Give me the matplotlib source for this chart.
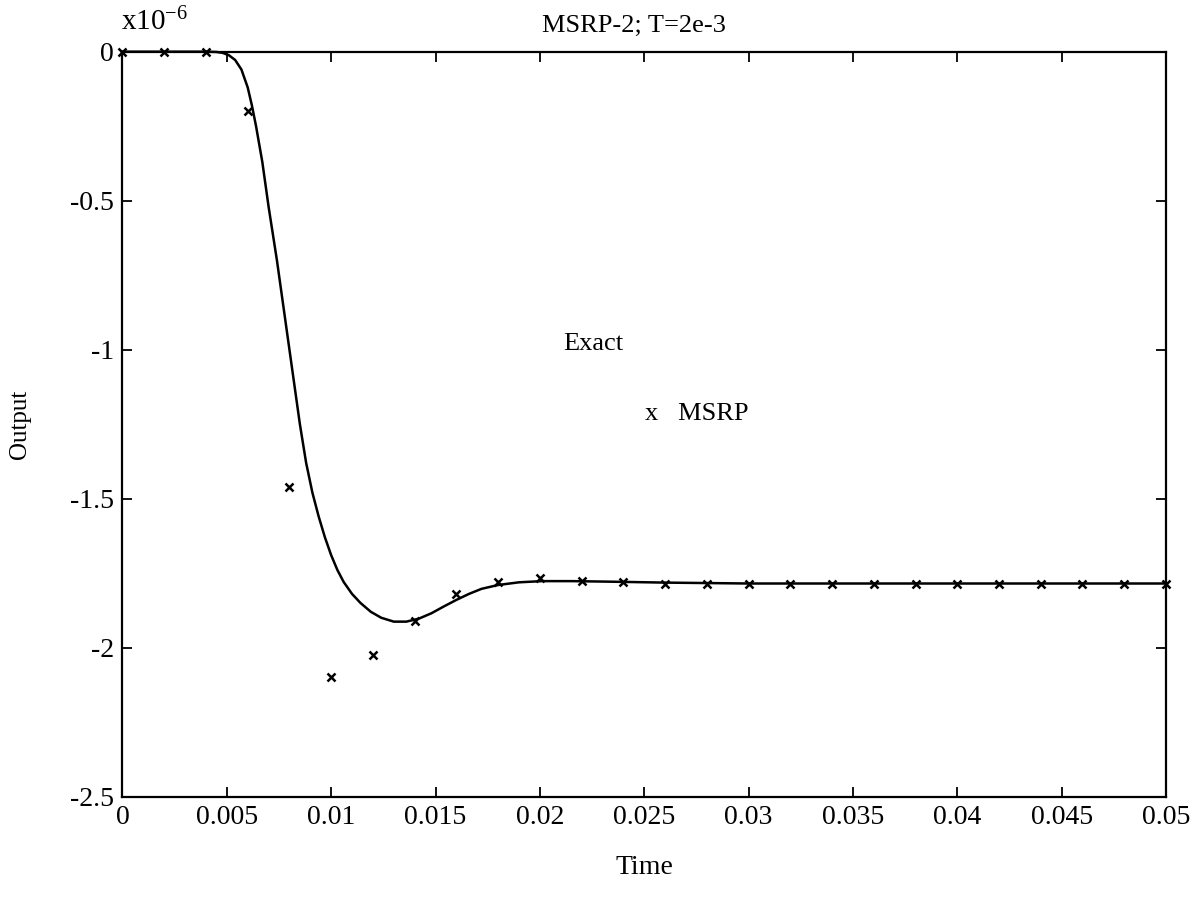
import matplotlib
matplotlib.use("Agg")
import matplotlib.pyplot as plt
import numpy as np

plt.rcParams['font.family'] = ['Liberation Serif', 'DejaVu Serif']
plt.rcParams['mathtext.fontset'] = 'custom'
plt.rcParams['mathtext.rm'] = 'Liberation Serif'
plt.rcParams['axes.unicode_minus'] = False

# exact response, x10^-6
t_exact = [0.0, 0.0040, 0.0045, 0.0048, 0.0051, 0.0054, 0.0057, 0.0060, 0.0062,
           0.0064, 0.0067, 0.0070, 0.0074, 0.0078, 0.0082, 0.0085, 0.0088,
           0.0091, 0.0094, 0.0097, 0.0100, 0.0103, 0.0106, 0.0110, 0.0114,
           0.0119, 0.0124, 0.0130, 0.0136, 0.0142, 0.0148, 0.0154, 0.0160,
           0.0166, 0.0172, 0.0180, 0.0190, 0.0201, 0.0215, 0.0235, 0.0260,
           0.0300, 0.0500]
y_exact = [0.0, 0.0, -0.001, -0.004, -0.012, -0.028, -0.060, -0.12, -0.18,
           -0.25, -0.37, -0.52, -0.70, -0.90, -1.10, -1.25, -1.38,
           -1.48, -1.56, -1.63, -1.69, -1.74, -1.78, -1.82, -1.85,
           -1.88, -1.90, -1.913, -1.913, -1.903, -1.885, -1.862, -1.84,
           -1.82, -1.803, -1.79, -1.781, -1.777, -1.777, -1.779, -1.782,
           -1.785, -1.785]

# MSRP-2 samples, T = 2e-3
t_msrp = [0.000, 0.002, 0.004, 0.006, 0.008, 0.010, 0.012, 0.014, 0.016,
          0.018, 0.020, 0.022, 0.024, 0.026, 0.028, 0.030, 0.032, 0.034,
          0.036, 0.038, 0.040, 0.042, 0.044, 0.046, 0.048, 0.050]
y_msrp = [0.0, 0.0, 0.0, -0.20, -1.46, -2.10, -2.025, -1.91, -1.82,
          -1.78, -1.767, -1.775, -1.78, -1.785, -1.785, -1.785, -1.785, -1.785,
          -1.785, -1.785, -1.785, -1.785, -1.785, -1.785, -1.785, -1.785]

xticks = [0, 0.005, 0.01, 0.015, 0.02, 0.025, 0.03, 0.035, 0.04, 0.045, 0.05]
xlabels = ['0', '0.005', '0.01', '0.015', '0.02', '0.025', '0.03', '0.035',
           '0.04', '0.045', '0.05']
yticks = [0, -0.5, -1, -1.5, -2, -2.5]
ylabels = ['0', '-0.5', '-1', '-1.5', '-2', '-2.5']

fig = plt.figure(figsize=(12.02, 8.97), dpi=100)
ax = fig.add_axes([0.1019, 0.112, 0.8681, 0.8304])

ax.plot(t_exact, y_exact, color='black', lw=1.8, clip_on=False)
ax.plot(t_msrp, y_msrp, ls='none', marker='x', ms=6, mew=1.8,
        color='black', clip_on=False)

ax.set_xlim(0, 0.05)
ax.set_ylim(-2.5, 0)
ax.set_xticks(xticks)
ax.set_xticklabels(xlabels)
ax.set_yticks(yticks)
ax.set_yticklabels(ylabels)
ax.tick_params(direction='in', length=7, width=1.3, labelsize=20,
               top=True, right=True, pad=6)
for s in ax.spines.values():
    s.set_linewidth(1.6)

ax.set_xlabel('Time', fontsize=20, labelpad=18)
ax.set_ylabel('Output', fontsize=18, labelpad=28)
ax.set_title('MSRP-2; T=2e-3', fontsize=19, pad=14, x=0.49)
fig.text(0.1005, 0.975, r'$\mathregular{x10^{-6}}$', fontsize=21,
         ha='left', va='center')

# legend as plain labels
ax.text(0.451, 0.607, 'Exact', transform=ax.transAxes, fontsize=19,
        ha='center', va='center')
ax.text(0.501, 0.513, 'x   MSRP', transform=ax.transAxes, fontsize=19,
        ha='left', va='center')

fig.savefig('out.png', dpi=100)
